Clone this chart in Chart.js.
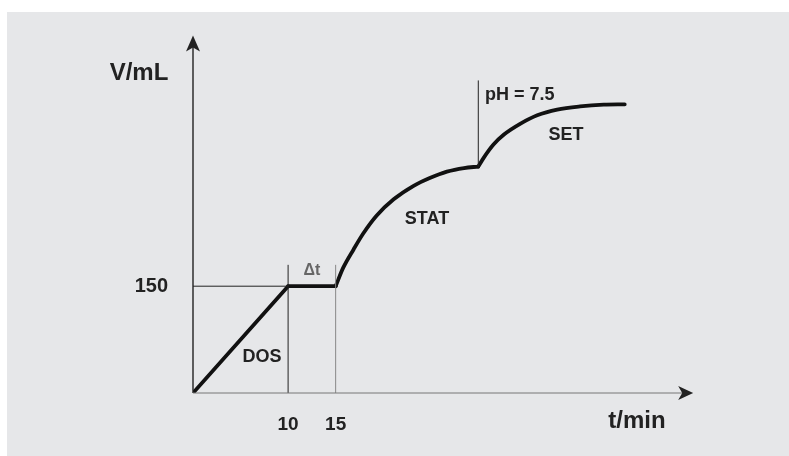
<!DOCTYPE html>
<html>
<head>
<meta charset="utf-8">
<script src="https://cdn.jsdelivr.net/npm/chart.js@4.4.1/dist/chart.umd.min.js"></script>
<style>
  html, body { margin: 0; padding: 0; background: #ffffff; }
  #wrap { width: 789px; height: 456px; position: relative; }
</style>
</head>
<body>
<div id="wrap"><canvas id="phChart"></canvas></div>
<script>
// DOS ramp, hold (delta t), STAT and SET segments (t in min, V in mL)
const dosT = [0, 10];
const dosV = [0, 150];
const holdT = [10, 15];
const holdV = [150, 150];
const statT = [15, 15.8, 16.9, 17.9, 19.3, 21.1, 23.2, 24.9, 26.7, 28.5, 30];
const statV = [150, 176, 202, 224, 249, 272, 291, 302, 311, 316, 318];
const setT = [30, 30.6, 31.6, 32.7, 34.4, 36.2, 38.3, 40.7, 43.2, 45.4];
const setV = [318, 331, 349, 363, 378, 390, 398, 402.5, 405, 405.5];

// tick labels
const xTicks = [10, 15];
const yTicks = [150];

// helper lines
const guide150T = [0, 10];
const guide150V = [150, 150];
const guide10T = [10, 10];
const guide10V = [0, 180];
const guide15T = [15, 15];
const guide15V = [0, 180];
const guidePhT = [30, 30];
const guidePhV = [318, 439];

const xAxisEnd = 52.6;
const yAxisEnd = 502;

const font = '"Liberation Sans", Arial, sans-serif';

function pts(xs, ys) {
  return xs.map((x, i) => ({ x: x, y: ys[i] }));
}

function thick(xs, ys) {
  return {
    data: pts(xs, ys),
    borderColor: '#111111',
    borderWidth: 3.8,
    pointRadius: 0,
    cubicInterpolationMode: 'monotone',
    borderCapStyle: 'round',
    borderJoinStyle: 'round'
  };
}

function thin(xs, ys, color) {
  return {
    data: pts(xs, ys),
    borderColor: color,
    borderWidth: 1,
    pointRadius: 0
  };
}

// gray panel, axes with arrows and the text labels
const decor = {
  id: 'decor',
  beforeDraw(chart) {
    const c = chart.ctx;
    c.save();
    c.fillStyle = '#ffffff';
    c.fillRect(0, 0, chart.width, chart.height);
    c.fillStyle = '#e6e7e9';
    c.fillRect(7, 12, chart.width - 7, chart.height - 12);
    c.restore();
  },
  afterDatasetsDraw(chart) {
    const c = chart.ctx;
    const xs = chart.scales.x, ys = chart.scales.y;
    const x0 = xs.getPixelForValue(0), y0 = ys.getPixelForValue(0);
    const xe = xs.getPixelForValue(xAxisEnd), ye = ys.getPixelForValue(yAxisEnd);
    c.save();
    // y axis
    c.strokeStyle = '#222222';
    c.lineWidth = 1.4;
    c.beginPath(); c.moveTo(x0, y0); c.lineTo(x0, ye + 4); c.stroke();
    c.fillStyle = '#222222';
    c.beginPath();
    c.moveTo(x0, ye); c.lineTo(x0 + 7, ye + 16); c.lineTo(x0, ye + 12); c.lineTo(x0 - 7, ye + 16);
    c.closePath(); c.fill();
    // x axis
    c.strokeStyle = '#777777';
    c.lineWidth = 1;
    c.beginPath(); c.moveTo(x0, y0); c.lineTo(xe - 4, y0); c.stroke();
    c.fillStyle = '#222222';
    c.beginPath();
    c.moveTo(xe, y0); c.lineTo(xe - 15, y0 - 7); c.lineTo(xe - 11, y0); c.lineTo(xe - 15, y0 + 7);
    c.closePath(); c.fill();

    // labels
    c.textAlign = 'center';
    c.textBaseline = 'middle';
    c.fillStyle = '#222222';
    c.font = 'bold 24px ' + font;
    c.fillText('V/mL', 139, 73);
    c.fillText('t/min', 637, 421);
    c.font = 'bold 18px ' + font;
    c.fillText('DOS', 262, 357);
    c.fillText('STAT', 427, 219);
    c.fillText('SET', 566, 135);
    c.textAlign = 'left';
    c.fillText('pH = 7.5', 485, 95);
    c.textAlign = 'center';
    c.fillStyle = '#666666';
    c.font = 'bold 16px ' + font;
    c.fillText('\u0394t', 312, 271);
    c.restore();
  }
};

new Chart(document.getElementById('phChart'), {
  type: 'line',
  data: {
    datasets: [
      thin(guide150T, guide150V, '#222222'),
      thin(guide10T, guide10V, '#222222'),
      thin(guide15T, guide15V, '#888888'),
      thin(guidePhT, guidePhV, '#222222'),
      thick(dosT, dosV),
      thick(holdT, holdV),
      thick(statT, statV),
      thick(setT, setV)
    ]
  },
  options: {
    responsive: true,
    maintainAspectRatio: false,
    animation: false,
    layout: {
      padding: { top: 36, bottom: 0, left: 0, right: 92 }
    },
    scales: {
      x: {
        type: 'linear',
        min: 0,
        max: 53,
        afterBuildTicks: axis => { axis.ticks = xTicks.map(v => ({ value: v })); },
        afterFit: axis => { axis.height = 63; },
        grid: { display: false, drawTicks: false },
        border: { display: false },
        ticks: {
          padding: 20,
          color: '#222222',
          font: { family: font, size: 19, weight: 'bold' }
        }
      },
      y: {
        type: 'linear',
        min: 0,
        max: 500,
        afterBuildTicks: axis => { axis.ticks = yTicks.map(v => ({ value: v })); },
        afterFit: axis => { axis.width = 193; },
        grid: { display: false, drawTicks: false },
        border: { display: false },
        ticks: {
          padding: 25,
          color: '#222222',
          font: { family: font, size: 20, weight: 'bold' }
        }
      }
    },
    plugins: {
      legend: { display: false },
      tooltip: { enabled: false }
    }
  },
  plugins: [decor]
});
</script>
</body>
</html>
